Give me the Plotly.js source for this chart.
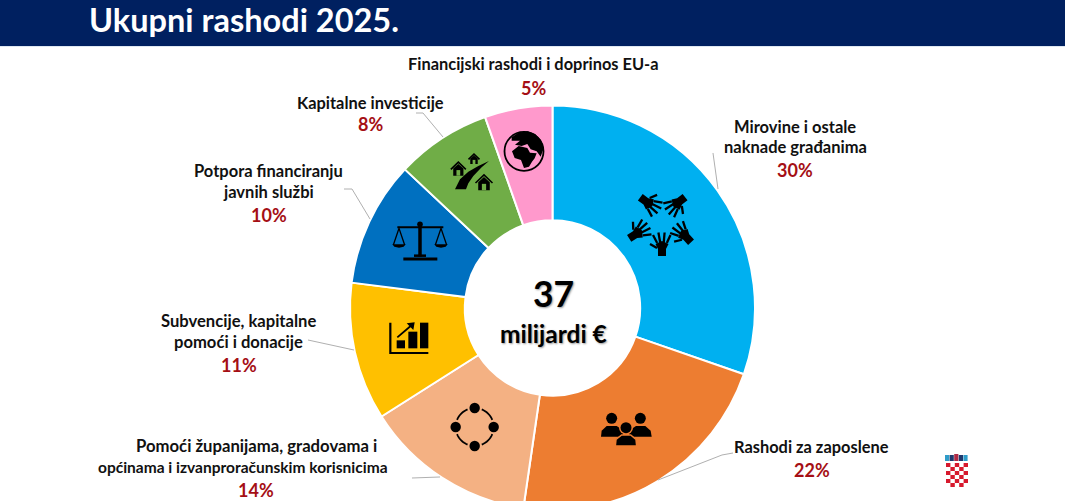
<!DOCTYPE html>
<html><head><meta charset="utf-8">
<script src="https://cdn.plot.ly/plotly-3.0.1.min.js"></script>
<style>html,body{margin:0;padding:0;width:1065px;height:501px;overflow:hidden;background:#fff}</style>
</head><body><div id="chart" style="width:1065px;height:540px"></div>
<script>
// ---------- data ----------
const titleText = "Ukupni rashodi 2025.";
const categories = ["Mirovine i ostale naknade građanima","Rashodi za zaposlene","Pomoći županijama, gradovama i općinama i izvanproračunskim korisnicima","Subvencije, kapitalne pomoći i donacije","Potpora financiranju javnih službi","Kapitalne investicije","Financijski rashodi i doprinos EU-a"];
const shares = [30.3, 22, 13.7, 11, 10, 7.6, 5.4];
const shareLabels = ["30%","22%","14%","11%","10%","8%","5%"];
const sliceColors = ["#00B0F0","#ED7D31","#F4B183","#FFC000","#0070C0","#70AD47","#FF99CC"];
const labelLines = [["Mirovine i ostale","naknade građanima"],["Rashodi za zaposlene"],["Pomoći županijama, gradovama i","općinama i izvanproračunskim korisnicima"],["Subvencije, kapitalne","pomoći i donacije"],["Potpora financiranju","javnih službi"],["Kapitalne investicije"],["Financijski rashodi i doprinos EU-a"]];
const centerValue = "37";
const centerUnit = "milijardi €";

// ---------- layout helpers (page pixels -> paper) ----------
const W = 1065, H = 540, FONT = "Lato, 'Open Sans', sans-serif";
const px = x => x / W, py = y => 1 - y / H;
const shapes = [];
const pathOf = (pts, close) => pts.map((p,i)=>(i?"L":"M")+px(p[0]).toFixed(5)+","+py(p[1]).toFixed(5)).join("")+(close?"Z":"");
const base = {xref:"paper",yref:"paper"};
const fillPoly = (pts,c="#000",edge) => shapes.push({...base,type:"path",path:pathOf(pts,true),fillcolor:c,line:edge?{color:edge,width:1.5}:{width:0}});
const stroke = (pts,w=2,c="#000") => shapes.push({...base,type:"path",path:pathOf(pts,false),line:{color:c,width:w}});
const disc = (x,y,r,c="#000") => shapes.push({...base,type:"circle",x0:px(x-r),x1:px(x+r),y0:py(y+r),y1:py(y-r),fillcolor:c,line:{width:0}});
const ring = (x,y,r,w) => shapes.push({...base,type:"circle",x0:px(x-r),x1:px(x+r),y0:py(y+r),y1:py(y-r),line:{color:"#000",width:w}});
const box = (x0,y0,x1,y1,c) => shapes.push({...base,type:"rect",x0:px(x0),x1:px(x1),y0:py(y1),y1:py(y0),fillcolor:c,line:{width:0}});
const Z = (a,b) => [340+a/3, 90+b/3];           // icon geometry measured at 3x
const Zs = l => l.map(p=>Z(p[0],p[1]));
const arc = (c,r,a0,a1) => { const o=[]; for(let i=0;i<=8;i++){const a=(a0+(a1-a0)*i/8)*Math.PI/180;o.push([c[0]+r*Math.cos(a),c[1]+r*Math.sin(a)]);} return o; };

// header
box(0,0,1065,46,"#002060");
box(0,46,1065,47,"#dfe8f2");

// leader lines
[[[713,153],[718,189]],[[733,453],[722,455],[658,480]],[[412,478],[440,477]],[[308,340],[354,350]],[[344,189],[352,189],[370,219]],[[416,113],[423,113],[443,137]]]
 .forEach(l=>stroke(l,1,"#b0b0b0"));

// hands icon
function hand(x,y,deg){
  const a=deg*Math.PI/180, T=(u,v)=>[x+u*Math.cos(a)-v*Math.sin(a), y+u*Math.sin(a)+v*Math.cos(a)];
  fillPoly([T(-3,-4),T(4,-4),T(9,-6.5),T(12,0),T(9,6.5),T(4,4),T(-3,4)]);
  [[-4.8,-9,18],[-1.7,-3.6,20.5],[1.7,2.6,20.5],[4.8,8.5,18]].forEach(f=>stroke([T(10,f[0]),T(f[2],f[1])],2.3));
  stroke([T(5,-5),T(9,-12)],2.3);
}
hand(642.7,199,37); hand(682.7,199,142); hand(689,240,227); hand(662,253,-90); hand(631.7,236.7,-32);

// people icon
const C2="#ED7D31";
disc(...Z(815,985),5.5); disc(...Z(901,985),5.5);
fillPoly(Zs([[783,1040],[785,1022],[800,1008],[830,1008],[848,1020],[850,1040]]));
fillPoly(Zs([[866,1040],[870,1020],[888,1008],[916,1008],[932,1022],[935,1040]]));
disc(...Z(858,1013),7,C2); disc(...Z(858,1013),5.5);
fillPoly(Zs([[826,1068],[828,1048],[845,1035],[872,1035],[888,1048],[890,1068]]),"#000",C2);

// network icon
const nc=Z(404,1011);
[[0,-19],[0,19],[-19,0],[19,0]].forEach(d=>disc(nc[0]+d[0],nc[1]+d[1],5.2));
[[12,78],[102,168],[192,258],[282,348]].forEach(r=>stroke(arc(nc,19,r[0]+10,r[1]-10),1.8));

// bar chart icon
stroke(Zs([[151,698],[151,789],[265,789]]),2.2);
box(...Z(170,751),...Z(195,775),"#000");
box(...Z(205,725),...Z(232,775),"#000");
box(...Z(240,698),...Z(265,775),"#000");
stroke(Zs([[172,742],[212,708]]),1.8);
fillPoly(Zs([[200,700],[224,697],[220,720]]));

// scales icon
stroke(Zs([[240,405],[240,500]]),3.5);
stroke(Zs([[190,507],[292,507]]),3);
stroke(Zs([[222,497],[258,497]]),2.5);
stroke(Zs([[172,412],[310,412]]),2);
disc(...Z(240,403),2.8);
[[177,160,194],[303,286,320]].forEach(p=>{
  stroke(Zs([[p[1],465],[p[0],415],[p[2],465]]),1.3);
  fillPoly(Zs([[p[1]-3,463],[p[2]+3,463],[p[2]-3,470],[p[0],473],[p[1]+3,470]]));
});

// road and houses icon
fillPoly(Zs([[345,298],[360,268],[385,245],[415,228],[447,213],[425,232],[400,258],[385,280],[378,298]]));
function house(c,s){
  const G="#70AD47";
  stroke([[c[0]-s,c[1]],[c[0],c[1]-s*.95],[c[0]+s,c[1]]],1.6);
  fillPoly([[c[0]-s*.68,c[1]-.1*s],[c[0],c[1]-s*.7],[c[0]+s*.68,c[1]-.1*s],[c[0]+s*.68,c[1]+s*.85],[c[0]-s*.68,c[1]+s*.85]]);
  box(c[0]-s*.25,c[1]+s*.1,c[0]+s*.25,c[1]+s*.85,G);
}
house(Z(355,238),7.5); house(Z(402,208),5.5); house(Z(432,279),8.5);

// globe icon
const Y=(a,b)=>[440+a/3,120+b/3], Ys=l=>l.map(p=>Y(p[0],p[1]));
ring(...Y(252,94),19.5,1.8);
fillPoly(Ys([[215,52],[235,38],[262,34],[285,42],[303,60],[311,85],[302,110],[290,94],[272,88],[262,72],[245,78],[225,74],[240,62],[215,62]]));
fillPoly(Ys([[216,94],[236,78],[262,84],[270,98],[290,100],[284,115],[276,125],[267,140],[252,144],[243,120],[224,114]]));

// coat of arms
const crownColors=["#2f9cc9","#1f3a6e","#b02a45","#1f3a6e","#2f9cc9"];
crownColors.forEach((c,i)=>box(945+i*4.6,454+(i==2?0:1),949.2+i*4.6,461,c));
for(let r=0;r<6;r++)for(let k=0;k<5;k++){
  if((r+k)%2==0 && !(r==5&&(k==0||k==4))) box(946+k*4.4,463+r*4,950.4+k*4.4,467+r*4,"#d7192d");
}

// ---------- text ----------
const ink="#111", red="#A50F15";
const txt=(t,x,y,size,color,extra={})=>({xref:"paper",yref:"paper",x:px(x),y:py(y),xanchor:"center",yanchor:"middle",showarrow:false,text:t,
  font:{family:FONT,size,color,weight:extra.weight||700,shadow:extra.shadow||"none"}});
const linePos=[[[795,127],[795,147]],[[812,447]],[[256,446],[243,467]],[[238,321],[238,342]],[[268,171],[268,192]],[[370,102]],[[533,64]]];
const lineSizes=[[16.5,16.5],[16.4],[16.7,15.5],[16.6,16.6],[16.5,16.5],[16.4],[16.4]];
const pctPos=[[795,170],[812,470],[256,490],[239,365],[269,215],[370,124],[533,88]];
const annotations=[];
labelLines.forEach((ls,i)=>ls.forEach((l,j)=>annotations.push(txt(l,linePos[i][j][0],linePos[i][j][1],lineSizes[i][j],ink))));
shareLabels.forEach((s,i)=>annotations.push(txt(s,pctPos[i][0],pctPos[i][1],18,red)));
annotations.push(txt(titleText,244,20,32.5,"#fff"));
annotations.push(txt(centerValue,553,293,35.5,"#000",{shadow:"1px 1px 2px #999"}));
annotations.push(txt(centerUnit,553,333,24.5,"#000",{shadow:"1px 1px 2px #999"}));

Plotly.newPlot("chart",[{
  type:"pie",labels:categories,values:shares,hole:0.433,sort:false,direction:"clockwise",rotation:0,
  marker:{colors:sliceColors,line:{color:"#fff",width:2}},textinfo:"none",hoverinfo:"label+percent",
  domain:{x:[px(350),px(755)],y:[py(510.5),py(105.5)]}
}],{
  width:W,height:H,margin:{l:0,r:0,t:0,b:0},showlegend:false,paper_bgcolor:"#fff",
  shapes,annotations
},{displayModeBar:false,staticPlot:true});
</script></body></html>
